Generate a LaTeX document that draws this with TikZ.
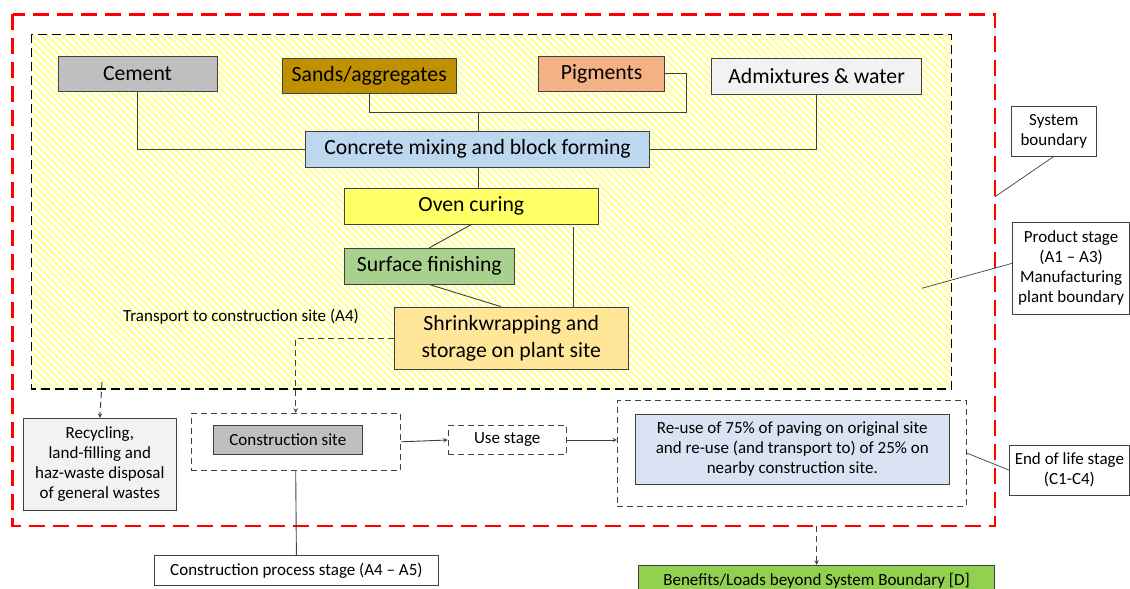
\documentclass[tikz,border=0pt]{standalone}
\usepackage{fontspec}
\setmainfont{Carlito}
\usepackage{xcolor}
\usetikzlibrary{calc,patterns.meta}

\definecolor{cementgray}{HTML}{BFBFBF}
\definecolor{sandgold}{HTML}{BF9000}
\definecolor{pigmentorange}{HTML}{F4B183}
\definecolor{admixgray}{HTML}{F2F2F2}
\definecolor{mixblue}{HTML}{BDD7EE}
\definecolor{ovenyellow}{HTML}{FFFF66}
\definecolor{finishgreen}{HTML}{A9D18E}
\definecolor{wrapyellow}{HTML}{FFE699}
\definecolor{reuseblue}{HTML}{DAE3F3}
\definecolor{benefitgreen}{HTML}{92D050}
\definecolor{edgegray}{HTML}{404040}

\tikzset{
  stage/.style={draw=edgegray, line width=0.9pt, inner sep=0pt, align=center,
    font=\fontsize{21.7}{26.7}\selectfont},
  note/.style={stage, font=\fontsize{17}{20}\selectfont},
  group/.style={draw=edgegray, line width=1pt, dash pattern=on 6pt off 4pt, inner sep=0pt},
  link/.style={draw=edgegray, line width=0.9pt},
  flow/.style={link, -stealth},
  dashflow/.style={flow, line width=1pt, dash pattern=on 6pt off 4pt},
}

\begin{document}
\begin{tikzpicture}[x=1pt,y=-1pt]
            \fill[white] (0,0) rectangle (1130,589);
            \useasboundingbox (0,0) rectangle (1130,589);

            % boundaries
            \fill[pattern={Lines[angle=-45,distance=5pt,line width=2pt]}, pattern color=yellow!45]
                (31.4,34.3) rectangle (951.6,389);
            \draw[black, line width=1.6pt, dash pattern=on 9pt off 5pt] (31.4,34.3) rectangle (951.6,389);
            \draw[red, line width=2.5pt, dash pattern=on 16pt off 8pt] (12.5,14.3) rectangle (995,526);

            % product stage
            \node[stage, fill=cementgray, minimum width=159pt, minimum height=35pt] (cement) at (137.5,74) {Cement};
            \node[stage, fill=sandgold, minimum width=174.5pt, minimum height=35pt] (sands) at (369.2,76.1) {Sands/aggregates};
            \node[stage, fill=pigmentorange, minimum width=125.8pt, minimum height=35.7pt] (pigments) at (601.6,73.9) {Pigments};
            \node[stage, fill=admixgray, minimum width=210pt, minimum height=35.3pt] (admix) at (816.6,76.3) {Admixtures \& water};
            \node[stage, fill=mixblue, minimum width=343.7pt, minimum height=35.7pt] (mixing) at (477.5,149.2) {Concrete mixing and block forming};
            \node[stage, fill=ovenyellow, minimum width=254pt, minimum height=35.7pt] (oven) at (471.3,206.2) {Oven curing};
            \node[stage, fill=finishgreen, minimum width=170pt, minimum height=35.7pt] (finish) at (429.3,266.2) {Surface finishing};
            \node[stage, fill=wrapyellow, minimum width=234pt, minimum height=62pt] (wrap) at (511.3,338) {Shrinkwrapping and\\storage on plant site};
            \node[font=\fontsize{17}{20}\selectfont] (transport) at (241,316.7) {Transport to construction site (A4)};

            \coordinate (join) at (478,112);
            \coordinate (pigbend) at (686,112);
            \draw[link] (cement.south) |- (mixing.west);
            \draw[link] (sands.south) |- (join) -- (mixing.north -| join);
            \draw[link] (pigments.east) -| (pigbend) -- (join);
            \draw[link] (admix.south) |- (mixing.east);
            \draw[link] (mixing.south -| join) -- (oven.north -| join);
            \draw[link] (oven.south) -- (finish.north);
            \draw[link] (finish.south) -- ([xshift=-10.6pt]wrap.north);
            \draw[link] ([xshift=-25.7pt,yshift=-2.7pt]oven.south east) -- ([xshift=-25.7pt]oven.south east |- wrap.north);

            % construction, use, end of life
            \node[note, fill=admixgray, minimum width=153.2pt, minimum height=91.7pt] (recycling) at (99.8,464.2)
                {Recycling,\\land-filling and\\haz-waste disposal\\of general wastes};
            \node[group, minimum width=209.4pt, minimum height=57pt] (sitegroup) at (295.7,441.8) {};
            \node[note, fill=cementgray, minimum width=148.4pt, minimum height=29.4pt] (site) at (287.8,440) {Construction site};
            \node[note, group, minimum width=118pt, minimum height=29.4pt] (use) at (507.2,440) {Use stage};
            \node[group, minimum width=348.6pt, minimum height=106pt] (eolgroup) at (791.7,453) {};
            \node[note, fill=reuseblue, minimum width=313.4pt, minimum height=70.7pt] (reuse) at (792.3,449.3)
                {Re-use of 75\% of paving on original site\\and re-use (and transport to) of 25\% on\\nearby construction site.};
            \node[note, fill=white, minimum width=283.6pt, minimum height=29.3pt] (process) at (296.4,570.3) {Construction process stage (A4 -- A5)};
            \node[note, fill=benefitgreen, minimum width=355.5pt, minimum height=31pt] (benefits) at (816.6,580.8) {Benefits/Loads beyond System Boundary [D]};

            \coordinate (wasteout) at (102,382);
            \coordinate (sysout) at (816.6,526);
            \draw[dashflow] (wrap.west) -| (sitegroup.north);
            \draw[dashflow] (wasteout) -- (recycling.north);
            \draw[flow] (sitegroup.east) -- (use.west);
            \draw[flow] (use.east) -- (use.east -| eolgroup.west);
            \draw[link] (sitegroup.south) -- (process.north);
            \draw[dashflow] (sysout) -- (benefits.north);

            % side labels
            \node[note, fill=white, minimum width=85.7pt, minimum height=50pt] (sysbound) at (1053.8,131) {System\\boundary};
            \node[note, fill=white, minimum width=116.8pt, minimum height=91.3pt] (prodstage) at (1071.1,268.3)
                {Product stage\\(A1 -- A3)\\Manufacturing\\plant boundary};
            \node[note, fill=white, minimum width=120.2pt, minimum height=50pt] (eolstage) at (1069.4,470) {End of life stage\\(C1-C4)};

            \coordinate (redpoint) at (995,196.7);
            \coordinate (plantpoint) at (921.7,288.3);
            \draw[link, line width=0.7pt] (sysbound.south) -- (redpoint);
            \draw[link, line width=0.7pt] ([yshift=5pt]prodstage.west) -- (plantpoint);
            \draw[link, line width=0.7pt] (eolgroup.east) -- (eolstage.west);
        \end{tikzpicture}
\end{document}
